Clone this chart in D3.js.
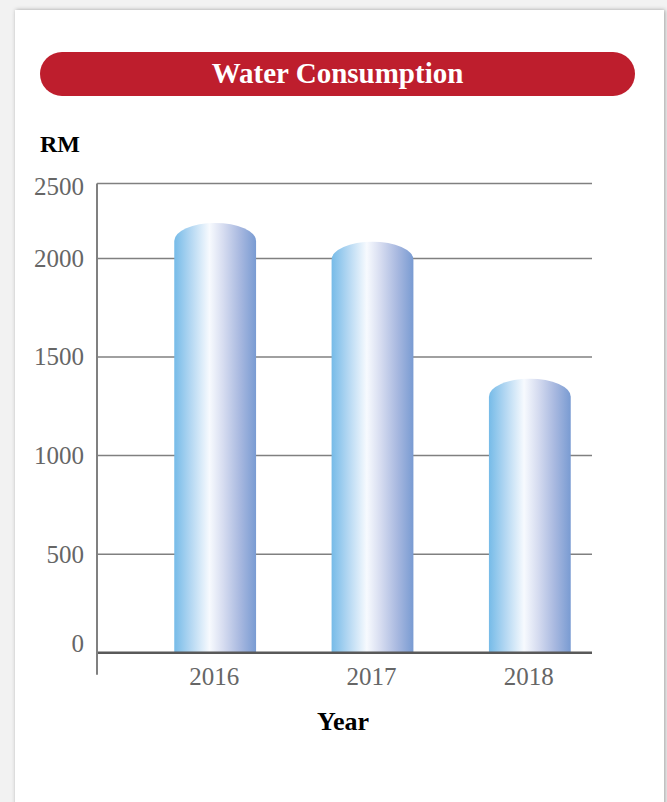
<!DOCTYPE html>
<html>
<head>
<meta charset="utf-8">
<script src="https://cdn.jsdelivr.net/npm/d3@7/dist/d3.min.js"></script>
<style>
	html, body { margin: 0; padding: 0; background: #f2f2f2; }
	#chart { width: 667px; height: 802px; }
</style>
</head>
<body>
<div id="chart"></div>
<script>
// data
var years = ["2016", "2017", "2018"];
var consumption = [2180, 2085, 1390]; // RM, top of each cylinder
var yTicks = [0, 500, 1000, 1500, 2000];
var yTopLabel = "2500"; // label printed on the top frame line
var yMax = 2380; // value where the top frame line sits

var width = 667, height = 802;
var margin = { left: 97, right: 75, top: 183.5, bottom: 149.3 };
var serif = "'Liberation Serif', 'DejaVu Serif', serif";

var svg = d3.select("#chart").append("svg")
	.attr("width", width)
	.attr("height", height);

// card with a soft shadow
var defs = svg.append("defs");
var shadow = defs.append("filter").attr("id", "shadow")
	.attr("x", "-5%").attr("y", "-5%").attr("width", "110%").attr("height", "110%");
shadow.append("feDropShadow")
	.attr("dx", 1).attr("dy", 0).attr("stdDeviation", 2)
	.attr("flood-color", "#000").attr("flood-opacity", 0.35);

svg.append("rect")
	.attr("x", 15).attr("y", 10)
	.attr("width", 649).attr("height", 800)
	.attr("fill", "#ffffff")
	.attr("filter", "url(#shadow)");

// gradient for the cylinders (left to right)
var grad = defs.append("linearGradient").attr("id", "cyl")
	.attr("x1", "0%").attr("x2", "100%").attr("y1", "0%").attr("y2", "0%");
var stops = [
	[0, "#76bbe8"], [0.2, "#b3d7f2"], [0.43, "#f7fafe"],
	[0.6, "#d6dcf0"], [0.8, "#a9b9e0"], [1, "#799bd2"]
];
stops.forEach(function(s) {
	grad.append("stop").attr("offset", s[0]).attr("stop-color", s[1]);
});

// title banner
svg.append("rect")
	.attr("x", 40).attr("y", 52)
	.attr("width", 595).attr("height", 44)
	.attr("rx", 22).attr("ry", 22)
	.attr("fill", "#be1e2d");
svg.append("text")
	.attr("x", 337.5).attr("y", 83)
	.attr("text-anchor", "middle")
	.attr("fill", "#ffffff")
	.attr("font-family", serif)
	.attr("font-weight", "bold")
	.attr("font-size", "29px")
	.text("Water Consumption");

// scales
var x = d3.scaleBand()
	.domain(years)
	.range([136.5, 608.5])
	.paddingInner(0.48)
	.paddingOuter(0.24);

var y = d3.scaleLinear()
	.domain([0, yMax])
	.range([height - margin.bottom, margin.top]);

var x0 = margin.left, x1 = width - margin.right;

// gridlines
svg.append("g").selectAll("line.grid")
	.data(yTicks.filter(function(d) { return d > 0; }))
	.enter().append("line")
	.attr("class", "grid")
	.attr("x1", x0).attr("x2", x1)
	.attr("y1", function(d) { return y(d); })
	.attr("y2", function(d) { return y(d); })
	.attr("stroke", "#808080").attr("stroke-width", 1.5);

// top frame line
svg.append("line")
	.attr("x1", x0).attr("x2", x1)
	.attr("y1", y(yMax)).attr("y2", y(yMax))
	.attr("stroke", "#808080").attr("stroke-width", 1.5);

// cylinders: straight sides with an elliptic top
var capRy = 18;
svg.append("g").selectAll("path.bar")
	.data(consumption)
	.enter().append("path")
	.attr("class", "bar")
	.attr("fill", "url(#cyl)")
	.attr("d", function(d, i) {
		var left = x(years[i]), right = left + x.bandwidth();
		var top = y(d), bottom = y(0);
		var rx = x.bandwidth() / 2;
		return "M" + left + "," + bottom +
			"L" + left + "," + (top + capRy) +
			"A" + rx + "," + capRy + " 0 0 1 " + right + "," + (top + capRy) +
			"L" + right + "," + bottom + "Z";
	});

// zero line and y axis line
svg.append("line")
	.attr("x1", x0).attr("x2", x1)
	.attr("y1", y(0)).attr("y2", y(0))
	.attr("stroke", "#595959").attr("stroke-width", 2.5);
svg.append("line")
	.attr("x1", x0).attr("x2", x0)
	.attr("y1", y(yMax)).attr("y2", y(0) + 22)
	.attr("stroke", "#808080").attr("stroke-width", 2);

// y tick labels
svg.append("g").selectAll("text.ytick")
	.data(yTicks)
	.enter().append("text")
	.attr("class", "ytick")
	.attr("x", 84)
	.attr("y", function(d) { return d === 0 ? y(d) - 0.5 : y(d) + 8.5; })
	.attr("text-anchor", "end")
	.attr("fill", "#666666")
	.attr("font-family", serif)
	.attr("font-size", "25px")
	.text(function(d) { return d; });
svg.append("text")
	.attr("x", 84).attr("y", y(yMax) + 11.5)
	.attr("text-anchor", "end")
	.attr("fill", "#666666")
	.attr("font-family", serif)
	.attr("font-size", "25px")
	.text(yTopLabel);

// x tick labels
svg.append("g").selectAll("text.xtick")
	.data(years)
	.enter().append("text")
	.attr("class", "xtick")
	.attr("x", function(d) { return x(d) + x.bandwidth() / 2 - 1; })
	.attr("y", 685)
	.attr("text-anchor", "middle")
	.attr("fill", "#666666")
	.attr("font-family", serif)
	.attr("font-size", "25px")
	.text(function(d) { return d; });

// axis titles
svg.append("text")
	.attr("x", 40).attr("y", 151.5)
	.attr("fill", "#000")
	.attr("font-family", serif)
	.attr("font-weight", "bold")
	.attr("font-size", "24px")
	.text("RM");
svg.append("text")
	.attr("x", 343).attr("y", 730)
	.attr("text-anchor", "middle")
	.attr("fill", "#000")
	.attr("font-family", serif)
	.attr("font-weight", "bold")
	.attr("font-size", "26px")
	.text("Year");
</script>
</body>
</html>
